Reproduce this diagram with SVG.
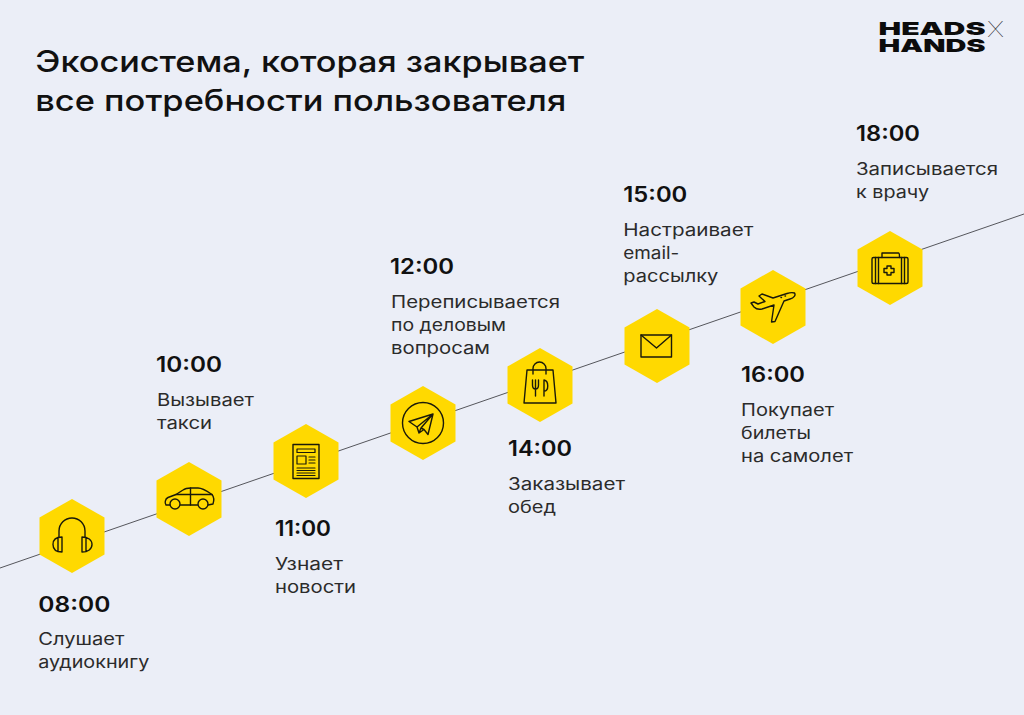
<svg xmlns="http://www.w3.org/2000/svg" width="1024" height="715" viewBox="0 0 1024 715">
<defs>
<polygon id="hex" points="0,-37 32.5,-18.5 32.5,18.5 0,37 -32.5,18.5 -32.5,-18.5"/>
</defs>
<style>
text{font-family:"Inter","Liberation Sans",sans-serif;fill:#151515}
.title{font-size:29.5px;font-weight:550;fill:#111}
.time{font-size:21px;font-weight:600;fill:#111}
.lab{font-size:17px;font-weight:400;fill:#2b2b2b}
.logo{font-size:18px;font-weight:900;fill:#0c0c0c}
.hx{fill:#ffd900}
.ic{fill:none;stroke:#1a1a0a;stroke-width:1.4;stroke-linejoin:round;stroke-linecap:round}
</style>
<rect width="1024" height="715" fill="#ebeef7"/>
<g id="connectors"><line x1="0" y1="568" x2="1024" y2="214" stroke="#55565c" stroke-width="1"/></g>
<g id="title">
<text class="title" x="35.300" y="71.500" textLength="549" lengthAdjust="spacingAndGlyphs">Экосистема, которая закрывает</text>
<text class="title" x="35.300" y="110.500" textLength="531" lengthAdjust="spacingAndGlyphs">все потребности пользователя</text>
</g>
<g id="logo">
<text class="logo" x="878.500" y="34.500" textLength="107" lengthAdjust="spacingAndGlyphs">HEADS</text>
<text class="logo" x="878.500" y="51.500" textLength="107" lengthAdjust="spacingAndGlyphs">HANDS</text>
<text x="987" y="37" font-size="21" font-weight="100" textLength="17" lengthAdjust="spacingAndGlyphs" style="fill:#222">X</text>
</g>
<g id="node-0800">
<use href="#hex" class="hx" x="72" y="536"/>
<g class="ic"><path d="M59,537V531a13,13 0 0 1 26,0V537"/><path d="M62,537C56,537 53,540 53,544.500S56,552 62,552ZM58,537.500V551.500"/><path d="M82,537C88,537 92,540 92,544.500S88,552 82,552ZM86,537.500V551.500"/></g>
<text class="time" x="38.300" y="612" textLength="72" lengthAdjust="spacingAndGlyphs">08:00</text>
<text class="lab" x="38.300" y="645" textLength="86" lengthAdjust="spacingAndGlyphs">Слушает</text>
<text class="lab" x="38.300" y="668" textLength="111" lengthAdjust="spacingAndGlyphs">аудиокнигу</text>
</g>
<g id="node-1000">
<use href="#hex" class="hx" x="189" y="499"/>
<g class="ic"><path d="M170,505H166C164.500,503 165,499 168,497.500L176,494.500L183,490C185,488.500 188,488 191,488H198C203,488 207,491 212,494.500C214,497 214,501 213,504L208,505M197.500,505H180.500"/><circle cx="175" cy="504" r="5"/><circle cx="203" cy="504" r="5"/><path d="M176,494.500H212M190.500,488V505"/></g>
<text class="time" x="156" y="372" textLength="66" lengthAdjust="spacingAndGlyphs">10:00</text>
<text class="lab" x="157" y="406" textLength="97" lengthAdjust="spacingAndGlyphs">Вызывает</text>
<text class="lab" x="157" y="429" textLength="55" lengthAdjust="spacingAndGlyphs">такси</text>
</g>
<g id="node-1100">
<use href="#hex" class="hx" x="306" y="461"/>
<g class="ic"><rect x="293" y="444.500" width="26" height="34"/><path d="M297,449H315V452.500H297ZM297,456H306V464H297ZM309,457H315M309,460H315M309,463H315M297,468H315M297,470.500H315M297,473H315M297,475.500H315" stroke-width="1.200"/></g>
<text class="time" x="275" y="536" textLength="56" lengthAdjust="spacingAndGlyphs">11:00</text>
<text class="lab" x="275" y="570" textLength="68" lengthAdjust="spacingAndGlyphs">Узнает</text>
<text class="lab" x="275" y="593" textLength="81" lengthAdjust="spacingAndGlyphs">новости</text>
</g>
<g id="node-1200">
<use href="#hex" class="hx" x="423" y="423"/>
<g class="ic"><circle cx="423" cy="423" r="20.500"/><path d="M433,414L409,421.500L417,427L419,433L424,429.500L428,434.500ZM433,414L417,427M419,433L421,428L433,414M421,428L424,429.500"/></g>
<text class="time" x="390" y="274" textLength="64" lengthAdjust="spacingAndGlyphs">12:00</text>
<text class="lab" x="391" y="308" textLength="169" lengthAdjust="spacingAndGlyphs">Переписывается</text>
<text class="lab" x="391" y="331" textLength="115" lengthAdjust="spacingAndGlyphs">по деловым</text>
<text class="lab" x="391" y="354" textLength="99" lengthAdjust="spacingAndGlyphs">вопросам</text>
</g>
<g id="node-1400">
<use href="#hex" class="hx" x="540" y="385"/>
<g class="ic"><path d="M527,370H553L556,403H524Z"/><path d="M533,374V368.500a6.500,6.500 0 0 1 13,0V374"/><path d="M532.500,380V385C532.500,388 534,389 535.500,389V396M538.500,380V385C538.500,388 537,389 535.500,389M535.500,380V389M544,396V380C549,381 549,391 544,391"/></g>
<text class="time" x="508" y="456" textLength="64" lengthAdjust="spacingAndGlyphs">14:00</text>
<text class="lab" x="508" y="490" textLength="117" lengthAdjust="spacingAndGlyphs">Заказывает</text>
<text class="lab" x="508" y="513" textLength="48" lengthAdjust="spacingAndGlyphs">обед</text>
</g>
<g id="node-1500">
<use href="#hex" class="hx" x="657" y="346"/>
<g class="ic"><rect x="641" y="335" width="30.500" height="22"/><path d="M641,335L656.500,348L671.500,335"/></g>
<text class="time" x="623.300" y="202" textLength="64" lengthAdjust="spacingAndGlyphs">15:00</text>
<text class="lab" x="623.300" y="236" textLength="130" lengthAdjust="spacingAndGlyphs">Настраивает</text>
<text class="lab" x="623.300" y="259" textLength="56" lengthAdjust="spacingAndGlyphs">email-</text>
<text class="lab" x="623.300" y="282" textLength="95" lengthAdjust="spacingAndGlyphs">рассылку</text>
</g>
<g id="node-1600">
<use href="#hex" class="hx" x="773" y="307"/>
<g class="ic"><path d="M794.500,293C796,295 794,298 790,299L784,301L775,321.500L771.500,322L774,305L762,309C758,310 756,309 754,307L751,303L754,302L758,304L765,301.500L759,296L762,294L773,298L787,293.500C790,292.500 793,292.500 794.500,293Z"/><path d="M781,297.500h.5M785,296h.5"/></g>
<text class="time" x="741" y="382" textLength="64" lengthAdjust="spacingAndGlyphs">16:00</text>
<text class="lab" x="741" y="416" textLength="93" lengthAdjust="spacingAndGlyphs">Покупает</text>
<text class="lab" x="741" y="439" textLength="70" lengthAdjust="spacingAndGlyphs">билеты</text>
<text class="lab" x="741" y="462" textLength="112" lengthAdjust="spacingAndGlyphs">на самолет</text>
</g>
<g id="node-1800">
<use href="#hex" class="hx" x="890" y="268"/>
<g class="ic"><rect x="872" y="257.500" width="36" height="26" rx="1.500"/><path d="M882,257.500V253H898.500C899.500,253 899.500,254 899.500,257.500M875.500,257.500V283.500M878.500,257.500V283.500M901.500,257.500V283.500M904.500,257.500V283.500"/><path d="M887,266H891V268.500H894V272.500H891V275H887V272.500H884V268.500H887Z"/></g>
<text class="time" x="856" y="141" textLength="64" lengthAdjust="spacingAndGlyphs">18:00</text>
<text class="lab" x="856" y="175" textLength="142" lengthAdjust="spacingAndGlyphs">Записывается</text>
<text class="lab" x="856" y="198" textLength="73" lengthAdjust="spacingAndGlyphs">к врачу</text>
</g>
</svg>
